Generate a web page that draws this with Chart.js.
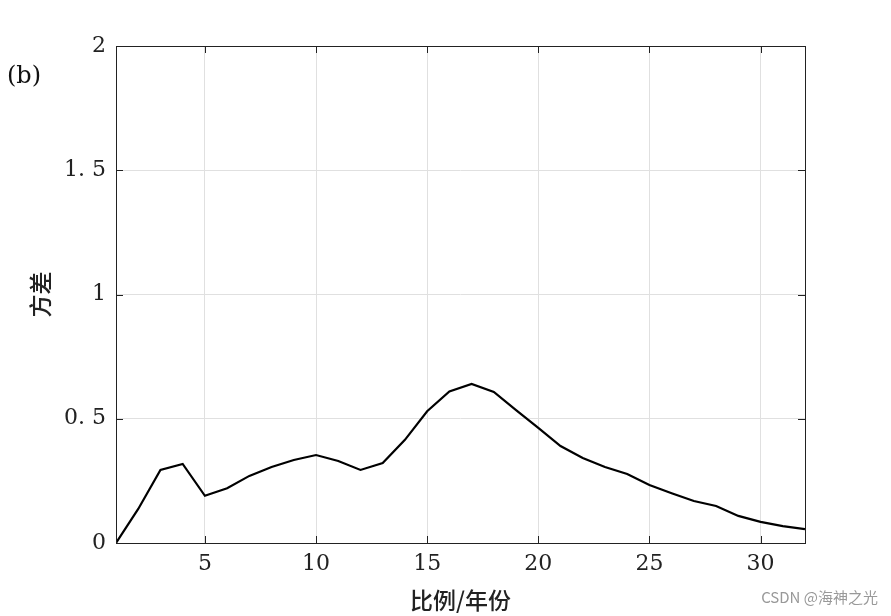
<!DOCTYPE html>
<html><head><meta charset="utf-8">
<script src="https://cdn.jsdelivr.net/npm/chart.js@4"></script>
<style>html,body{margin:0;padding:0;background:#fff}#w{width:891px;height:616px}</style>
</head><body><div id="w"><canvas id="c"></canvas></div>
<script>
const years = [1,2,3,4,5,6,7,8,9,10,11,12,13,14,15,16,17,18,19,20,21,22,23,24,25,26,27,28,29,30,31,32];
const variance = [0.0,0.137,0.294,0.318,0.19,0.22,0.27,0.306,0.334,0.354,0.33,0.294,0.322,0.415,0.53,0.61,0.64,0.608,0.535,0.463,0.39,0.342,0.306,0.278,0.233,0.2,0.169,0.149,0.109,0.085,0.068,0.056];
const xTicks = [5,10,15,20,25,30];
const yTicks = [0,0.5,1,1.5,2];
const yLabels = ['0','0. 5','1','1. 5','2'];
const tickFont = {family:'"DejaVu Serif", serif', size:22};
const frame = {id:'frame', afterDraw(ch){
  const {ctx,chartArea:a,scales:{x,y}} = ch;
  ctx.save(); ctx.strokeStyle='#222'; ctx.lineWidth=1;
  ctx.strokeRect(a.left+0.5,a.top+0.5,a.right-a.left,a.bottom-a.top);
  ctx.beginPath();
  xTicks.forEach(v=>{const px=Math.round(x.getPixelForValue(v))+0.5;ctx.moveTo(px,a.bottom);ctx.lineTo(px,a.bottom-7);ctx.moveTo(px,a.top);ctx.lineTo(px,a.top+7);});
  yTicks.forEach(v=>{const py=Math.round(y.getPixelForValue(v))+0.5;ctx.moveTo(a.left,py);ctx.lineTo(a.left+7,py);ctx.moveTo(a.right,py);ctx.lineTo(a.right-7,py);});
  ctx.stroke();
  ctx.fillStyle='#111'; ctx.font='24px "DejaVu Serif", serif'; ctx.textBaseline='middle';
  ctx.fillText('(b)',7,77);
  ctx.fillStyle='#999'; ctx.font='15px "Noto Sans CJK SC", sans-serif'; ctx.textAlign='right';
  ctx.fillText('CSDN @海神之光',878,597);
  ctx.restore();
}};
new Chart(document.getElementById('c'),{
  type:'line',
  data:{datasets:[{data:years.map((v,i)=>({x:v,y:variance[i]})),borderColor:'#000',borderWidth:2.2,pointRadius:0,tension:0,fill:false}]},
  options:{responsive:true,maintainAspectRatio:false,animation:false,
    layout:{padding:{left:0,right:86,top:46,bottom:0}},
    plugins:{legend:{display:false},tooltip:{enabled:false}},
    scales:{
      x:{type:'linear',min:1,max:32,
        afterBuildTicks:s=>{s.ticks=xTicks.map(v=>({value:v}));},
        afterFit:s=>{s.height=73;},
        grid:{color:'#e0e0e0',tickLength:0,drawTicks:false},border:{display:false},
        ticks:{font:tickFont,color:'#222',padding:8,maxRotation:0},
        title:{display:true,text:'比例/年份',font:{family:'"Noto Sans CJK SC", sans-serif',size:23,weight:'500'},color:'#222',padding:{top:0,bottom:2}}},
      y:{min:0,max:2,
        afterBuildTicks:s=>{s.ticks=yTicks.map(v=>({value:v}));},
        afterFit:s=>{s.width=116;},
        grid:{color:'#e0e0e0',tickLength:0,drawTicks:false},border:{display:false},
        ticks:{font:tickFont,color:'#222',padding:10,callback:(v)=>yLabels[yTicks.indexOf(v)]},
        title:{display:true,text:'方差',font:{family:'"Noto Sans CJK SC", sans-serif',size:23,weight:'500'},color:'#222',padding:{top:26,bottom:0}}}
    }},
  plugins:[frame]
});
</script></body></html>
